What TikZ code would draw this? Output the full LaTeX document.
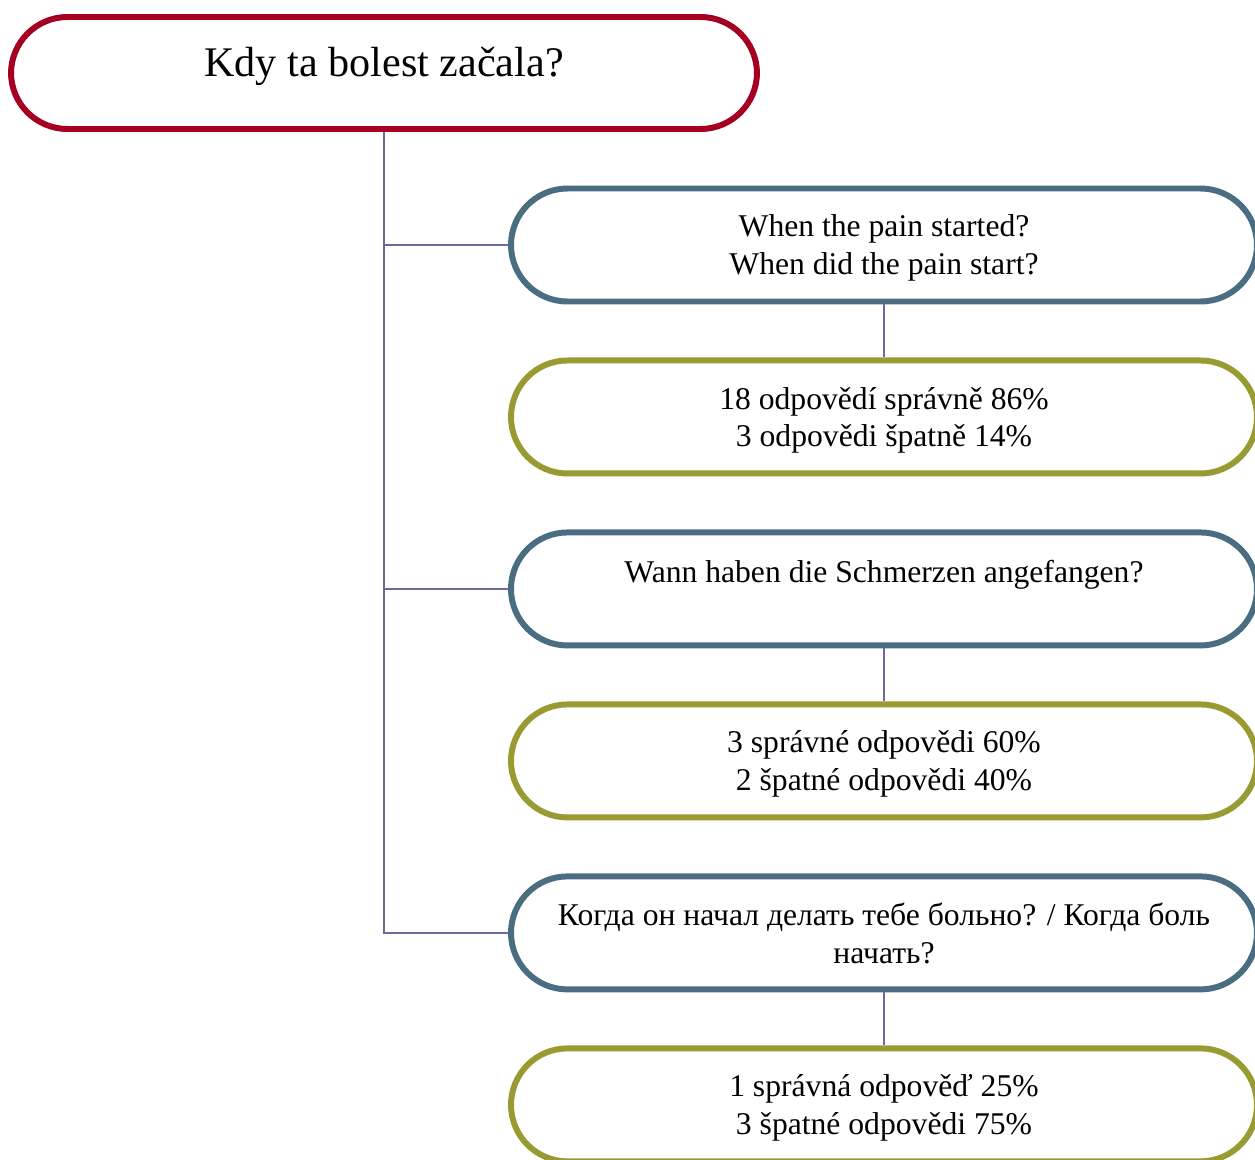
\documentclass[tikz,border=0pt]{standalone}
\usepackage{fontspec}
\setmainfont{Liberation Serif}
\usetikzlibrary{positioning}
\definecolor{wine}{RGB}{165,0,33}
\definecolor{slate}{RGB}{74,109,130}
\definecolor{moss}{RGB}{153,155,50}
\definecolor{lilac}{RGB}{110,104,160}
\tikzset{
  pill/.style={draw=#1,line width=1.7pt,fill=white,rounded corners=0.565cm,
    minimum width=7.46cm,minimum height=1.13cm,align=center,text depth=0pt,
    font=\fontsize{9}{10.8}\selectfont},
  pill/.default=slate,
  link/.style={draw=lilac,line width=0.6pt},
}

\begin{document}
\begin{tikzpicture}[node distance=0.53cm]
  \useasboundingbox (0,0) rectangle (12.55,-11.6);
  \node[pill=wine,minimum height=1.12cm,font=\fontsize{12}{14.4}\selectfont,text depth=6.6pt] (title) at (3.84,-0.73) {Kdy ta bolest začala?};
  \node[pill] (q1) at (8.84,-2.45) {When the pain started?\\When did the pain start?};
  \node[pill=moss,below=of q1] (a1) {18 odpovědí správně 86\%\\3 odpovědi špatně 14\%};
  \node[pill,below=of a1,text depth=10pt] (q2) {Wann haben die Schmerzen angefangen?};
  \node[pill=moss,below=of q2] (a2) {3 správné odpovědi 60\%\\2 špatné odpovědi 40\%};
  \node[pill,below=of a2] (q3) {Когда он начал делать тебе больно? / Когда боль\\начать?};
  \node[pill=moss,below=of q3] (a3) {1 správná odpověď 25\%\\3 špatné odpovědi 75\%};
  \foreach \q in {q1,q2,q3} \draw[link] (title.south) |- (\q.west);
  \foreach \q/\a in {q1/a1,q2/a2,q3/a3} \draw[link] (\q.south) -- (\a.north);
\end{tikzpicture}
\end{document}
